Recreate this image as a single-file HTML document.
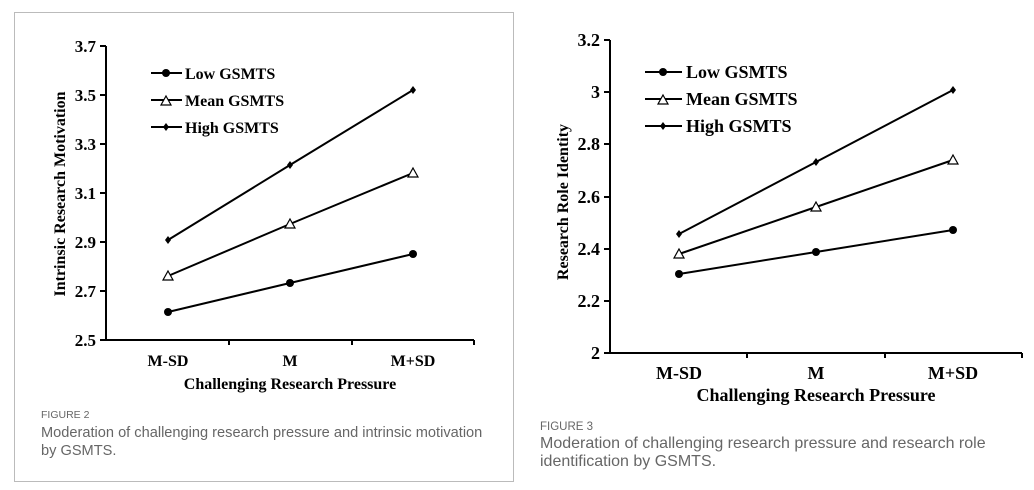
<!DOCTYPE html>
<html><head><meta charset="utf-8"><style>
body{margin:0;background:#fff;width:1034px;height:490px;overflow:hidden}
svg{position:absolute;left:0;top:0}
.t{font-family:"Liberation Serif",serif;font-weight:bold;fill:#000}
.c{font-family:"Liberation Sans",sans-serif;fill:#666}
</style></head><body>
<svg width="1034" height="490" xmlns="http://www.w3.org/2000/svg">
<rect x="14.5" y="12.5" width="499" height="469" fill="none" stroke="#bbb"/>
<!-- Left chart -->
<g stroke="#000" stroke-width="2" fill="none">
<path d="M106 46V340H474"/>
<path d="M100 46H106M100 95H106M100 144H106M100 193H106M100 242H106M100 291H106M100 340H106"/>
<path d="M229 340V345M352 340V345M474 340V345"/>
<polyline points="168,240 290,165 413,90"/>
<polyline points="168,276 290,224 413,173"/>
<polyline points="168,312 290,283 413,254"/>
<path d="M151 73H182M151 100H182M151 127H182"/>
</g>
<g fill="#000">
<circle cx="168" cy="312" r="4"/><circle cx="290" cy="283" r="4"/><circle cx="413" cy="254" r="4"/><circle cx="166" cy="73" r="4"/>
<path d="M168 236l3 4-3 4-3-4z M290 161l3 4-3 4-3-4z M413 86l3 4-3 4-3-4z M166 123l3 4-3 4-3-4z"/>
</g>
<g fill="#fff" stroke="#000" stroke-width="1.2">
<path d="M168 271l5 9h-10z M290 219l5 9h-10z M413 168l5 9h-10z M166 96l5 9h-10z"/>
</g>
<g class="t" font-size="17" text-anchor="end">
<text x="96" y="52">3.7</text><text x="96" y="101">3.5</text><text x="96" y="150">3.3</text><text x="96" y="199">3.1</text><text x="96" y="248">2.9</text><text x="96" y="297">2.7</text><text x="96" y="346">2.5</text>
</g>
<g class="t" font-size="16">
<text x="185" y="79">Low GSMTS</text><text x="185" y="106">Mean GSMTS</text><text x="185" y="133">High GSMTS</text>
</g>
<g class="t" font-size="16" text-anchor="middle">
<text x="168" y="366">M-SD</text><text x="290" y="366">M</text><text x="413" y="366">M+SD</text>
<text x="290" y="389">Challenging Research Pressure</text>
<text transform="translate(65,194) rotate(-90)">Intrinsic Research Motivation</text>
</g>
<text class="c" x="41" y="418" font-size="10.5">FIGURE 2</text>
<text class="c" x="41" y="437" font-size="14.6">Moderation of challenging research pressure and intrinsic motivation</text>
<text class="c" x="41" y="455" font-size="14.6">by GSMTS.</text>

<!-- Right chart -->
<g stroke="#000" stroke-width="2" fill="none">
<path d="M610 40V353H1022"/>
<path d="M604 40H610M604 92H610M604 144H610M604 197H610M604 249H610M604 301H610M604 353H610"/>
<path d="M747 353V358M885 353V358M1022 353V358"/>
<polyline points="679,234 816,162 953,90"/>
<polyline points="679,254 816,207 953,160"/>
<polyline points="679,274 816,252 953,230"/>
<path d="M645 72H682M645 99H682M645 126H682"/>
</g>
<g fill="#000">
<circle cx="679" cy="274" r="4"/><circle cx="816" cy="252" r="4"/><circle cx="953" cy="230" r="4"/><circle cx="663" cy="72" r="4"/>
<path d="M679 230l3 4-3 4-3-4z M816 158l3 4-3 4-3-4z M953 86l3 4-3 4-3-4z M663 122l3 4-3 4-3-4z"/>
</g>
<g fill="#fff" stroke="#000" stroke-width="1.2">
<path d="M679 249l5 9h-10z M816 202l5 9h-10z M953 155l5 9h-10z M663 95l5 9h-10z"/>
</g>
<g class="t" font-size="18" text-anchor="end">
<text x="600" y="46">3.2</text><text x="600" y="98">3</text><text x="600" y="150">2.8</text><text x="600" y="203">2.6</text><text x="600" y="255">2.4</text><text x="600" y="307">2.2</text><text x="600" y="359">2</text>
</g>
<g class="t" font-size="18">
<text x="686" y="78">Low GSMTS</text><text x="686" y="105">Mean GSMTS</text><text x="686" y="132">High GSMTS</text>
</g>
<g class="t" font-size="18" text-anchor="middle">
<text x="679" y="379">M-SD</text><text x="816" y="379">M</text><text x="953" y="379">M+SD</text>
<text x="816" y="401">Challenging Research Pressure</text>
<text transform="translate(568,202) rotate(-90)" font-size="16">Research Role Identity</text>
</g>
<text class="c" x="540" y="430" font-size="11.5">FIGURE 3</text>
<text class="c" x="540" y="448" font-size="16">Moderation of challenging research pressure and research role</text>
<text class="c" x="540" y="466" font-size="16">identification by GSMTS.</text>
</svg>
</body></html>
